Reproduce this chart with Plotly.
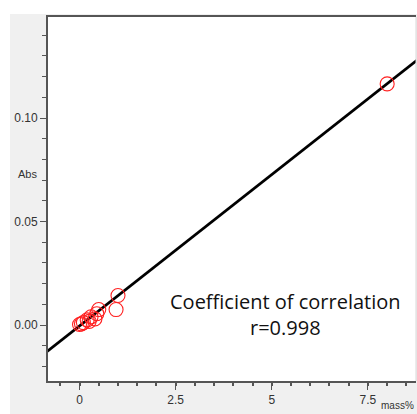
import plotly.graph_objects as go

# data
conc = [0.0, 0.05, 0.1, 0.2, 0.25, 0.3, 0.4, 0.45, 0.5, 0.95, 1.0, 8.0]
absorb = [0.0003, 0.0006, 0.0012, 0.0025, 0.0018, 0.004, 0.003, 0.0055, 0.0075, 0.0075, 0.0143, 0.1165]
slope = 0.01462
intercept = -0.0004
line_x = [-1.0, 9.5]
x_ticks = [0, 2.5, 5, 7.5]
x_labels = ["0", "2.5", "5", "7.5"]
y_ticks = [0.0, 0.05, 0.10]
y_labels = ["0.00", "0.05", "0.10"]

W, H = 417, 414
ml, mr, mt, mb = 48, 1, 17, 33
pw, ph = W - ml - mr, H - mt - mb

def px_x(p):
    return (p - ml) / pw

def px_y(p):
    return (H - mb - p) / ph

fig = go.Figure()
fig.add_trace(go.Scatter(
    x=line_x, y=[slope * v + intercept for v in line_x], mode="lines",
    line=dict(color="black", width=2.8), hoverinfo="skip", showlegend=False))
fig.add_trace(go.Scatter(
    x=conc, y=absorb, mode="markers",
    marker=dict(symbol="circle-open", size=14, color="#ff2020", line=dict(width=1.1)),
    showlegend=False))

axis_font = dict(family="Liberation Sans, Arial, sans-serif", size=12, color="#333")
fig.update_xaxes(
    range=[-0.82, 8.75], showgrid=False, zeroline=False,
    showline=True, mirror=True, linecolor="#555", linewidth=2,
    tickmode="array", tickvals=x_ticks, ticktext=x_labels,
    ticks="outside", ticklen=7, tickcolor="#555", tickwidth=1,
    minor=dict(dtick=0.5, tick0=0, ticks="outside", ticklen=3, tickcolor="#555", tickwidth=1.5),
    tickfont=axis_font)
fig.update_yaxes(
    range=[-0.027, 0.1488], showgrid=False, zeroline=False,
    showline=True, linecolor="#555", linewidth=2,
    tickmode="array", tickvals=y_ticks, ticktext=y_labels,
    ticks="outside", ticklen=6, tickcolor="#555", tickwidth=1,
    minor=dict(dtick=0.01, tick0=0, ticks="outside", ticklen=4, tickcolor="#555", tickwidth=1),
    tickfont=axis_font)

fig.update_layout(
    width=W, height=H, margin=dict(l=ml, r=mr, t=mt, b=mb, autoexpand=False),
    paper_bgcolor="#f0f0f0", plot_bgcolor="white",
    shapes=[
        dict(type="rect", xref="paper", yref="paper", x0=px_x(0), x1=px_x(W + 5),
             y0=px_y(14), y1=px_y(-5), fillcolor="white", line_width=0, layer="below"),
        dict(type="rect", xref="paper", yref="paper", x0=px_x(-5), x1=px_x(10),
             y0=px_y(H + 5), y1=px_y(-5), fillcolor="white", line_width=0, layer="below"),
        dict(type="line", xref="paper", yref="paper", x0=1, x1=1, y0=0, y1=1,
             line=dict(color="#d8d8d8", width=1)),
    ],
    annotations=[
        dict(text="Abs", xref="paper", yref="paper", x=px_x(39), y=px_y(174),
             xanchor="right", yanchor="middle", showarrow=False,
             font=dict(family="Liberation Sans, Arial, sans-serif", size=11, color="#333")),
        dict(text="mass%", xref="paper", yref="paper", x=px_x(416), y=px_y(413),
             xanchor="right", yanchor="bottom", showarrow=False,
             font=dict(family="Liberation Sans, Arial, sans-serif", size=10, color="#333")),
        dict(text="Coefficient of correlation<br>r=0.998", xref="paper", yref="paper",
             x=px_x(285), y=px_y(343), showarrow=False, align="center",
             font=dict(family="Open Sans, sans-serif", size=20, color="#111")),
    ],
)

fig.write_html("out.html")
